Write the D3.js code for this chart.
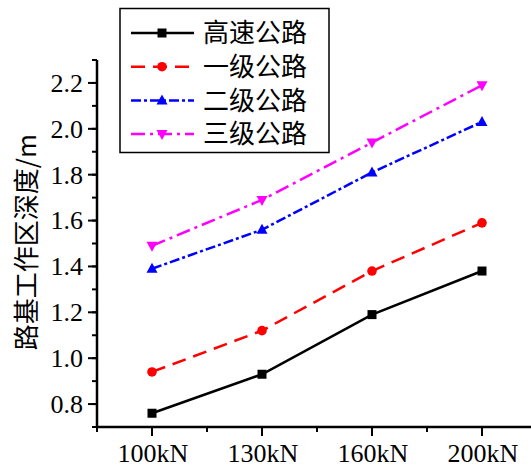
<!DOCTYPE html>
<html><head><meta charset="utf-8">
<script src="https://cdn.jsdelivr.net/npm/d3@7"></script>
<style>body{margin:0;background:#fff}svg{display:block}</style>
</head><body>
<svg id="c" width="531" height="469"></svg>
<script>
const categories = ["100kN","130kN","160kN","200kN"];
const seriesNames = ["高速公路","一级公路","二级公路","三级公路"];
const highway = [0.76, 0.93, 1.19, 1.38];
const class1 = [0.94, 1.12, 1.38, 1.59];
const class2 = [1.39, 1.56, 1.81, 2.03];
const class3 = [1.49, 1.69, 1.94, 2.19];
const yTicks = [0.8, 1.0, 1.2, 1.4, 1.6, 1.8, 2.0, 2.2];
const yLabel = "路基工作区深度/m";

const series = [
  {name: seriesNames[0], values: highway, color: "#000000", dash: null, marker: "square"},
  {name: seriesNames[1], values: class1, color: "#ff0000", dash: "14,8", marker: "circle"},
  {name: seriesNames[2], values: class2, color: "#0000ff", dash: "10,3,3,3", marker: "triangle"},
  {name: seriesNames[3], values: class3, color: "#ff00ff", dash: "14,5,3,5", marker: "triangleDown"}
];

const SERIF = "Liberation Serif";
const CJK = "Noto Sans CJK SC";

const svg = d3.select("#c");
const mLeft = 97, mBottom = 427, mTop = 60, mRight = 537;
const x = d3.scaleLinear().domain([-0.5, 3.5]).range([mLeft, mRight]);
const y = d3.scaleLinear().domain([0.7, 2.3]).range([mBottom, mTop]);

// Y axis
const yAxis = svg.append("g").attr("transform", `translate(${mLeft},0)`);
yAxis.append("line").attr("x1",0).attr("x2",0).attr("y1",y(2.3)).attr("y2",y(0.7)).attr("stroke","#000").attr("stroke-width",2.5);
const yMinor = d3.range(7, 24).map(v => v/10);
yAxis.selectAll(".ymin").data(yMinor).enter().append("line")
  .attr("x1",-5).attr("x2",0).attr("y1",d=>y(d)).attr("y2",d=>y(d)).attr("stroke","#000").attr("stroke-width",2);
yAxis.selectAll(".ymaj").data(yTicks).enter().append("line")
  .attr("x1",-9).attr("x2",0).attr("y1",d=>y(d)).attr("y2",d=>y(d)).attr("stroke","#000").attr("stroke-width",2);
yAxis.selectAll(".ylab").data(yTicks).enter().append("text")
  .style("font-family",SERIF).style("font-size","26px")
  .attr("x",-14).attr("y",d=>y(d)).attr("dy","0.34em").attr("text-anchor","end")
  .text(d=>d.toFixed(1));

// X axis
const xAxis = svg.append("g").attr("transform", `translate(0,${mBottom})`);
xAxis.append("line").attr("x1",mLeft-1).attr("x2",531).attr("y1",0).attr("y2",0).attr("stroke","#000").attr("stroke-width",2.5);
const xMinor = [-0.5, 0.5, 1.5, 2.5];
xAxis.selectAll(".xmin").data(xMinor).enter().append("line")
  .attr("x1",d=>x(d)).attr("x2",d=>x(d)).attr("y1",0).attr("y2",5).attr("stroke","#000").attr("stroke-width",2);
xAxis.selectAll(".xmaj").data(categories).enter().append("line")
  .attr("x1",(d,i)=>x(i)).attr("x2",(d,i)=>x(i)).attr("y1",0).attr("y2",9).attr("stroke","#000").attr("stroke-width",2);
xAxis.selectAll(".xlab").data(categories).enter().append("text")
  .style("font-family",SERIF).style("font-size","26px")
  .attr("x",(d,i)=>x(i)+1).attr("y",35).attr("text-anchor","middle")
  .text(d=>d);

// Y label
svg.append("text").style("font-family",CJK).style("font-size","26px")
  .attr("transform","translate(36,242) rotate(-90)")
  .attr("text-anchor","middle").text(yLabel);

function drawMarker(g, type, cx, cy, color) {
  if (type === "square") {
    g.append("rect").attr("x",cx-4.5).attr("y",cy-4.5).attr("width",9).attr("height",9).attr("fill",color);
  } else if (type === "circle") {
    g.append("circle").attr("cx",cx).attr("cy",cy).attr("r",4.8).attr("fill",color);
  } else if (type === "triangle") {
    g.append("path").attr("d",`M${cx},${cy-6}L${cx+5.5},${cy+4}L${cx-5.5},${cy+4}Z`).attr("fill",color);
  } else {
    g.append("path").attr("d",`M${cx},${cy+6}L${cx+5.5},${cy-4}L${cx-5.5},${cy-4}Z`).attr("fill",color);
  }
}

const line = d3.line().x((d,i)=>x(i)).y(d=>y(d));
series.forEach(s => {
  const g = svg.append("g");
  g.append("path").attr("d", line(s.values)).attr("fill","none").attr("stroke",s.color)
    .attr("stroke-width",2.5).attr("stroke-dasharray",s.dash);
  s.values.forEach((v,i) => drawMarker(g, s.marker, x(i), y(v), s.color));
});

// Legend
const lg = svg.append("g");
lg.append("rect").attr("x",120).attr("y",8.5).attr("width",209).attr("height",144)
  .attr("fill","#fff").attr("stroke","#000").attr("stroke-width",1.5);
series.forEach((s,i) => {
  const ly = 33 + i*33.7;
  lg.append("line").attr("x1",131).attr("x2",194).attr("y1",ly).attr("y2",ly)
    .attr("stroke",s.color).attr("stroke-width",2.5).attr("stroke-dasharray",s.dash);
  drawMarker(lg, s.marker, 162, ly, s.color);
  lg.append("text").style("font-family",CJK).style("font-size","26px")
    .attr("x",203).attr("y",ly).attr("dy","0.36em").text(s.name);
});
</script>
</body></html>
